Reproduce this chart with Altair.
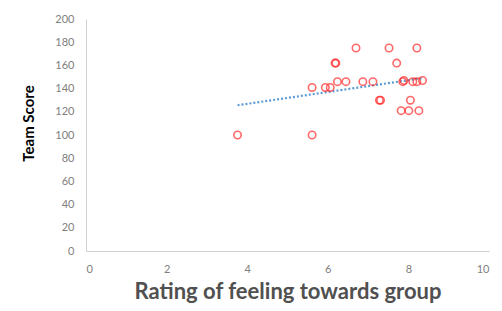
import altair as alt
import pandas as pd

rating = [3.76, 5.61, 5.61, 5.94, 6.06, 6.18, 6.20, 6.24, 6.45, 6.70, 6.87, 7.12, 7.28, 7.31,
          7.52, 7.71, 7.86, 7.89, 7.82, 8.01, 8.26, 8.05, 8.11, 8.21, 8.35, 8.21]
score = [100, 100, 141, 141, 141, 162, 162, 146, 146, 175, 146, 146, 130, 130,
         175, 162, 146, 147, 121, 121, 121, 130, 146, 146, 147, 175]

df = pd.DataFrame({"rating": rating, "score": score})

x_ticks = [0, 2, 4, 6, 8, 10]
y_ticks = list(range(0, 201, 20))

font = "Lato"

xs = alt.X("rating:Q", scale=alt.Scale(domain=[0, 10], nice=False),
           axis=alt.Axis(values=x_ticks, title="Rating of feeling towards group", grid=False,
                         ticks=False, domainColor="#d0d0d0", labelColor="#808080",
                         labelFontSize=11, labelPadding=12, titleFontSize=22,
                         titleFontWeight="bold", titleColor="#505050", titlePadding=7,
                         labelFont=font, titleFont=font))
ys = alt.Y("score:Q", scale=alt.Scale(domain=[0, 200], nice=False),
           axis=alt.Axis(values=y_ticks, title="Team Score", grid=False, ticks=False,
                         domainColor="#d0d0d0", labelColor="#808080", labelFontSize=11,
                         labelPadding=12, titleFontSize=15, titleFontWeight="bold",
                         titleColor="#000000", titlePadding=18, titleY=104,
                         labelFont=font, titleFont=font))

points = alt.Chart(df).mark_point(shape="circle", filled=False, color="#ff2a2a",
                                   size=55, strokeWidth=1.6).encode(x=xs, y=ys)

trend = alt.Chart(df).transform_regression("rating", "score").mark_line(
    color="#5b9bd5", strokeDash=[2, 2], strokeWidth=2.2).encode(x=xs, y=ys)

chart = (trend + points).properties(
    width=403, height=232,
    autosize=alt.AutoSizeParams(type="none"),
    padding={"left": 78, "top": 11, "right": 5, "bottom": 52},
).configure_view(stroke=None)

chart.save("out.html", embed_options={"renderer": "svg", "actions": False})
